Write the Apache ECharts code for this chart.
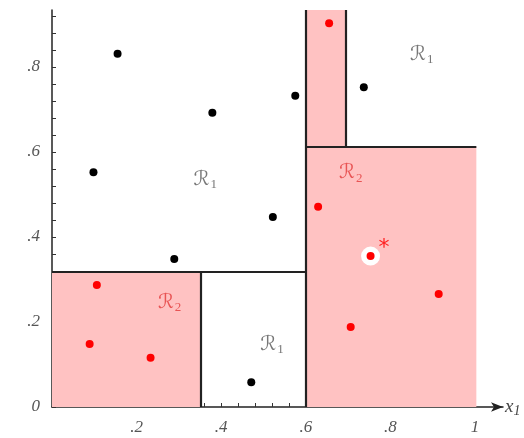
<!DOCTYPE html>
<html>
<head>
<meta charset="utf-8">
<script src="https://cdn.jsdelivr.net/npm/echarts@6/dist/echarts.min.js"></script>
<style>html,body{margin:0;padding:0;background:#fff;}#c{width:524px;height:438px;}</style>
</head>
<body>
<div id="c"></div>
<script>
// ---- data ----
var blackX = [0.155, 0.379, 0.098, 0.575, 0.737, 0.522, 0.289, 0.471];
var blackY = [0.831, 0.692, 0.552, 0.732, 0.752, 0.447, 0.348, 0.058];
var redX = [0.655, 0.629, 0.106, 0.089, 0.233, 0.914, 0.706];
var redY = [0.903, 0.471, 0.287, 0.148, 0.116, 0.266, 0.188];
var queryPoint = [0.753, 0.355];
var yTop = 0.934;
// pink (class 2) cells: [x0, y0, x1, y1]
var pinkCells = [
  [0, 0, 0.351, 0.318],
  [0.6, 0.612, 0.694, yTop],
  [0.6, 0, 1.003, 0.612]
];
// partition boundaries: [x0, y0, x1, y1]
var splits = [
  [0.6, 0, 0.6, yTop],
  [0, 0.318, 0.6, 0.318],
  [0.351, 0, 0.351, 0.318],
  [0.6, 0.612, 1.003, 0.612],
  [0.694, 0.612, 0.694, yTop]
];
var regionLabelX = [0.362, 0.874, 0.520, 0.278, 0.706];
var regionLabelY = [0.534, 0.828, 0.146, 0.245, 0.550];
var regionLabelClass = [1, 1, 1, 2, 2];
var xLabels = [0.2, 0.4, 0.6, 0.8, 1];
var yLabels = [0, 0.2, 0.4, 0.6, 0.8];
var tickStep = 0.04;

function fmt(v) {
  if (Math.abs(v) < 1e-9) return '0';
  if (Math.abs(v - 1) < 1e-9) return '1';
  return '.' + Math.round(v * 10);
}
var xTicks = [], yTicks = [];
for (var i = 0; i <= 25; i++) { xTicks.push(+(i * tickStep).toFixed(2)); }
for (var j = 0; j <= 23; j++) { yTicks.push(+(j * tickStep).toFixed(2)); }

function zip(xs, ys) { return xs.map(function (x, k) { return [x, ys[k]]; }); }

var labelFont = {fontFamily: 'Liberation Serif', fontStyle: 'italic', fontSize: 17, color: '#555'};

var chart = echarts.init(document.getElementById('c'), null, {renderer: 'canvas'});
chart.setOption({
  animation: false,
  grid: {left: 52, right: 21, top: 10, bottom: 31},
  xAxis: {
    type: 'value', min: 0, max: 1.066,
    splitLine: {show: false},
    axisLine: {show: true, lineStyle: {color: '#222', width: 1.5}, symbol: ['none', 'arrow'], symbolSize: [7, 12]},
    axisTick: {show: true, inside: true, length: 4, customValues: xTicks, lineStyle: {color: '#333'}},
    axisLabel: Object.assign({customValues: xLabels, formatter: fmt, margin: 12}, labelFont),
    name: '{x|x}{s|1}', nameLocation: 'end', nameGap: 2,
    nameTextStyle: {
      rich: {
        x: {fontFamily: 'Liberation Serif', fontStyle: 'italic', fontSize: 19, color: '#444'},
        s: {fontFamily: 'Liberation Serif', fontStyle: 'italic', fontSize: 14, color: '#444', padding: [8, 0, 0, 0]}
      }
    }
  },
  yAxis: {
    type: 'value', min: 0, max: yTop,
    splitLine: {show: false},
    axisLine: {show: true, lineStyle: {color: '#222', width: 1.5}},
    axisTick: {show: true, inside: true, length: 4, customValues: yTicks, lineStyle: {color: '#333'}},
    axisLabel: Object.assign({customValues: yLabels, formatter: fmt, margin: 12}, labelFont)
  },
  series: [
    {
      type: 'scatter', data: [], z: 2,
      markArea: {
        silent: true,
        itemStyle: {color: '#ffc2c2', borderWidth: 0},
        data: pinkCells.map(function (c) { return [{coord: [c[0], c[1]]}, {coord: [c[2], c[3]]}]; })
      },
      markLine: {
        silent: true, symbol: 'none', animation: false,
        label: {show: false},
        lineStyle: {color: '#222', width: 2.2, type: 'solid'},
        data: splits.map(function (s) { return [{coord: [s[0], s[1]]}, {coord: [s[2], s[3]]}]; })
      }
    },
    {
      type: 'scatter', z: 4, symbolSize: 8,
      itemStyle: {color: '#000', opacity: 1},
      data: zip(blackX, blackY)
    },
    {
      type: 'scatter', z: 4, symbolSize: 8,
      itemStyle: {color: '#ff0000', opacity: 1},
      data: zip(redX, redY)
    },
    {
      type: 'scatter', z: 5, symbolSize: 19,
      itemStyle: {color: '#ffffff', opacity: 1},
      data: [queryPoint]
    },
    {
      type: 'scatter', z: 6, symbolSize: 8,
      itemStyle: {color: '#ff0000', opacity: 1},
      label: {show: true, formatter: '*', position: [12, -15], fontFamily: 'DejaVu Sans', fontSize: 22, color: '#ff2020'},
      data: [queryPoint]
    },
    {
      type: 'scatter', z: 7, symbolSize: 0,
      label: {
        show: true, position: 'inside',
        formatter: function (p) { return '{r|ℛ}{s|' + p.value[2] + '}'; }
      },
      data: regionLabelX.map(function (x, k) {
        var col = regionLabelClass[k] === 1 ? '#555' : '#e23838';
        return {
          value: [x, regionLabelY[k], regionLabelClass[k]],
          label: {rich: {r: {color: col, fontFamily: 'DejaVu Sans', fontSize: 20},
                         s: {color: col, fontFamily: 'Liberation Serif', fontSize: 13, padding: [10, 0, 0, 1]}}}
        };
      })
    }
  ]
});
</script>
</body>
</html>
